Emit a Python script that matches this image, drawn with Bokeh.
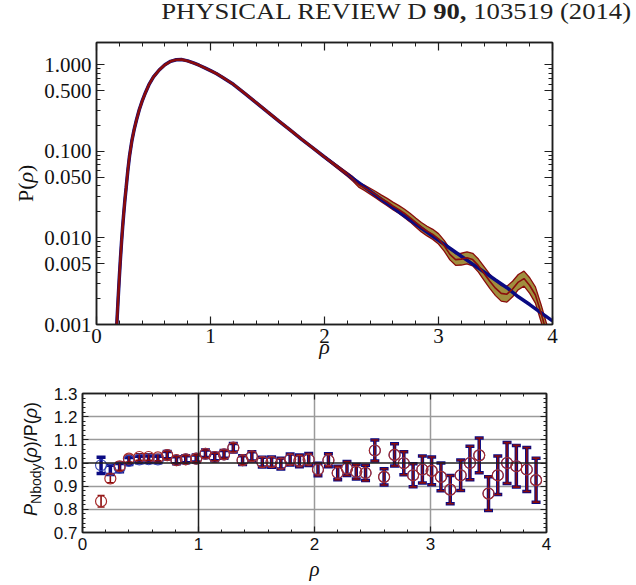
import numpy as np
from bokeh.plotting import figure
from bokeh.models import (ColumnDataSource, FixedTicker, CustomJSTickFormatter, LinearAxis,
                          LogAxis, Span, Whisker, TeeHead, Range1d, Div)
from bokeh.layouts import column, row
from bokeh.embed import file_html
from bokeh.resources import INLINE

# ---------------- data ----------------
# model curve P(rho) (blue)
rho_model = [0.17, 0.178, 0.19, 0.20, 0.21, 0.22, 0.23, 0.24, 0.25, 0.26, 0.275, 0.29, 0.31, 0.33,
             0.35, 0.375, 0.40, 0.43, 0.46, 0.50, 0.55, 0.60, 0.65, 0.70, 0.75, 0.80, 0.85, 0.90,
             0.95, 1.00, 1.05, 1.10, 1.20, 1.30, 1.40, 1.50, 1.60, 1.70, 1.80, 1.90, 2.00, 2.10,
             2.20, 2.30, 2.40, 2.50, 2.60, 2.70, 2.80, 2.90, 3.00, 3.10, 3.20, 3.30, 3.40, 3.50,
             3.60, 3.70, 3.80, 3.90, 4.00]
p_model = [0.0007, 0.001, 0.0020, 0.00347, 0.00575, 0.00912, 0.0138, 0.0200, 0.0282, 0.0380,
           0.0603, 0.0891, 0.132, 0.178, 0.229, 0.302, 0.380, 0.479, 0.589, 0.724, 0.871, 1.0,
           1.096, 1.143, 1.148, 1.109, 1.052, 0.989, 0.923, 0.857, 0.794, 0.724, 0.596, 0.468,
           0.366, 0.286, 0.224, 0.176, 0.138, 0.109, 0.0861, 0.0684, 0.0543, 0.0434, 0.0347,
           0.0278, 0.0224, 0.0180, 0.0145, 0.0116, 0.00938, 0.00759, 0.00614, 0.00498, 0.00404,
           0.00327, 0.00266, 0.00209, 0.00170, 0.00136, 0.00110]

# simulation curve (dark red) with its band
rho_sim = [0.17, 0.178, 0.19, 0.20, 0.21, 0.22, 0.23, 0.24, 0.25, 0.26, 0.275, 0.29, 0.31, 0.33,
           0.35, 0.375, 0.40, 0.43, 0.46, 0.50, 0.55, 0.60, 0.65, 0.70, 0.75, 0.80, 0.85, 0.90,
           0.95, 1.00, 1.05, 1.10, 1.20, 1.30, 1.40, 1.50, 1.60, 1.70, 1.80, 1.90, 2.00, 2.10,
           2.20, 2.25, 2.30, 2.35, 2.40, 2.45, 2.50, 2.55, 2.60, 2.65, 2.70, 2.75, 2.80, 2.85,
           2.90, 2.95, 3.00, 3.05, 3.10, 3.15, 3.20, 3.25, 3.30, 3.35, 3.40, 3.45, 3.50, 3.55,
           3.60, 3.65, 3.70, 3.75, 3.80, 3.85, 3.90, 3.95, 4.00]
p_sim = [0.0007, 0.001, 0.0020, 0.00347, 0.00575, 0.00912, 0.0138, 0.0200, 0.0282, 0.0380,
         0.0603, 0.0891, 0.132, 0.178, 0.229, 0.302, 0.380, 0.479, 0.589, 0.724, 0.871, 1.0,
         1.096, 1.143, 1.148, 1.109, 1.052, 0.989, 0.923, 0.857, 0.794, 0.724, 0.596, 0.468,
         0.366, 0.286, 0.224, 0.176, 0.138, 0.109, 0.0861, 0.0684, 0.0543, 0.0479, 0.0412,
         0.0380, 0.0347, 0.0316, 0.0285, 0.0260, 0.0234, 0.0214, 0.0193, 0.0172, 0.0151,
         0.0133, 0.0120, 0.0110, 0.00977, 0.00813, 0.00646, 0.00562, 0.00569, 0.00589,
         0.00562, 0.00479, 0.00389, 0.00316, 0.00263, 0.00229, 0.00224, 0.00257, 0.00309,
         0.00339, 0.00282, 0.00219, 0.00135, 0.00079, 0.00045]
band_start = 2.0
# half width of the band in decades, for rho_sim >= 2.0
band_hw = [0.012, 0.017, 0.022,
           0.025, 0.028, 0.031, 0.034, 0.037, 0.040,
           0.042, 0.044, 0.046, 0.048, 0.050, 0.052, 0.054, 0.056, 0.058, 0.060,
           0.062, 0.064, 0.066, 0.068, 0.070, 0.073, 0.076, 0.079, 0.082, 0.086,
           0.090, 0.092, 0.090, 0.088, 0.087, 0.090, 0.094, 0.098, 0.102, 0.106]

# ratio panel
rho_bins = [0.16, 0.24, 0.32, 0.40, 0.49, 0.57, 0.65, 0.73, 0.81, 0.89, 0.98, 1.06, 1.14, 1.22,
            1.30, 1.38, 1.46, 1.55, 1.63, 1.71, 1.79, 1.87, 1.95, 2.03, 2.12, 2.20, 2.28, 2.36,
            2.44, 2.52, 2.60, 2.69, 2.77, 2.85, 2.93, 3.01, 3.09, 3.17, 3.26, 3.34, 3.42, 3.50,
            3.58, 3.66, 3.74, 3.83, 3.91]
ratio_blue = [0.990, 0.970, 0.980, 1.009, 1.015, 1.016, 1.015, 1.034, 1.012, 1.016, 1.019, 1.040,
              1.026, 1.037, 1.066, 1.012, 1.029, 1.004, 1.004, 0.997, 1.015, 1.009, 1.015, 0.972,
              1.012, 0.957, 0.976, 0.962, 0.957, 1.054, 0.940, 1.035, 0.999, 0.947, 0.972, 0.966,
              0.940, 0.885, 0.947, 1.000, 1.033, 0.868, 0.947, 1.000, 0.986, 0.972, 0.926]
err_blue = [0.035, 0.020, 0.018, 0.015, 0.014, 0.014, 0.014, 0.016, 0.015, 0.015, 0.015, 0.016,
            0.016, 0.017, 0.018, 0.019, 0.020, 0.021, 0.022, 0.023, 0.024, 0.025, 0.026, 0.027,
            0.028, 0.029, 0.030, 0.031, 0.033, 0.045, 0.035, 0.048, 0.050, 0.050, 0.058, 0.060,
            0.060, 0.061, 0.066, 0.072, 0.075, 0.073, 0.083, 0.088, 0.090, 0.095, 0.095]
ratio_red = [0.835, 0.933, 0.986, 1.019, 1.026, 1.026, 1.024, 1.034, 1.012, 1.016, 1.019, 1.040,
             1.026, 1.037, 1.066, 1.012, 1.029, 1.004, 1.004, 0.997, 1.015, 1.009, 1.015, 0.972,
             1.012, 0.957, 0.976, 0.962, 0.957, 1.054, 0.940, 1.035, 0.999, 0.947, 0.972, 0.966,
             0.940, 0.885, 0.947, 1.000, 1.033, 0.868, 0.947, 1.000, 0.986, 0.972, 0.926]
err_red = [0.025, 0.018, 0.018, 0.015, 0.014, 0.014, 0.014, 0.016, 0.015, 0.015, 0.015, 0.016,
           0.016, 0.017, 0.018, 0.019, 0.020, 0.021, 0.022, 0.023, 0.024, 0.025, 0.026, 0.027,
           0.028, 0.029, 0.030, 0.031, 0.033, 0.045, 0.035, 0.048, 0.050, 0.050, 0.058, 0.060,
           0.060, 0.061, 0.066, 0.072, 0.075, 0.073, 0.083, 0.088, 0.090, 0.095, 0.095]

top_yticks = [0.001, 0.005, 0.01, 0.05, 0.1, 0.5, 1.0]
x_ticks = [0, 1, 2, 3, 4]
bot_yticks = [0.7, 0.8, 0.9, 1.0, 1.1, 1.2, 1.3]

# ---------------- styling ----------------
NAVY = "#0a0a82"
DRED = "#8a0c0c"
OLIVE = "#a08e3e"
INK = "#1e1e1e"
SERIF = "Liberation Serif"
SANS = "Liberation Sans"

log_minor = [m * 10.0 ** e for e in (-3, -2, -1, 0) for m in range(2, 10) if m * 10.0 ** e < 1.9]
x_minor = [round(v, 2) for v in np.arange(0, 4.001, 0.2)]
blank = CustomJSTickFormatter(code="return ''")


def style_axis(ax, ticker, fmt, font, size, standoff, tin, tmin):
    ax.ticker = ticker
    ax.formatter = fmt
    ax.major_tick_in = tin
    ax.major_tick_out = 0
    ax.minor_tick_in = tmin
    ax.minor_tick_out = 0
    ax.axis_line_color = INK
    ax.axis_line_width = 1.5
    ax.major_tick_line_color = INK
    ax.major_tick_line_width = 1.2
    ax.minor_tick_line_color = INK
    ax.minor_tick_line_width = 1.0
    ax.major_label_text_font = font
    ax.major_label_text_font_size = size
    ax.major_label_text_color = "#111111"
    ax.major_label_standoff = standoff


# ---------------- header ----------------
header = Div(width=636, height=28, margin=0, text=(
    '<div style="position:relative;width:636px;height:28px;">'
    '<div style="position:absolute;right:5px;top:0px;font-family:\'Liberation Serif\';'
    'font-size:23px;line-height:23px;color:#231f20;white-space:nowrap;'
    'transform:scaleX(1.16);transform-origin:right top;">'
    'PHYSICAL REVIEW D <b>90,</b> 103519 (2014)</div></div>'))

# ---------------- top panel ----------------
top = figure(width=598, height=337, x_range=Range1d(0, 4), y_range=Range1d(0.001, 1.81),
             y_axis_type="log", output_backend="svg", toolbar_location=None,
             min_border_left=58, min_border_right=84, min_border_top=14, min_border_bottom=41)
top.title = None
top.xgrid.visible = False
top.ygrid.visible = False
top.outline_line_color = INK
top.outline_line_width = 1.5

xt = FixedTicker(ticks=x_ticks, minor_ticks=x_minor)
yt = FixedTicker(ticks=top_yticks, minor_ticks=log_minor)
style_axis(top.xaxis[0], xt, CustomJSTickFormatter(code="return tick.toFixed(0)"), SERIF, "21px", 4, 8, 4)
style_axis(top.yaxis[0], yt, CustomJSTickFormatter(code="return tick.toFixed(3)"), SERIF, "21px", 5, 8, 4)
top.xaxis[0].axis_label = "ρ"
top.xaxis[0].axis_label_text_font = SERIF
top.xaxis[0].axis_label_text_font_size = "22px"
top.xaxis[0].axis_label_text_font_style = "italic"
top.xaxis[0].axis_label_text_color = "#111111"
top.xaxis[0].axis_label_standoff = -12
ax_t = LinearAxis()
style_axis(ax_t, xt, blank, SERIF, "6px", 0, 8, 4)
top.add_layout(ax_t, "above")
ax_r = LogAxis()
style_axis(ax_r, yt, blank, SERIF, "6px", 0, 8, 4)
top.add_layout(ax_r, "right")

i0 = rho_sim.index(band_start)
band_rho = rho_sim[i0:]
band_p = p_sim[i0:]
band_lo = [p * 10 ** (-h) for p, h in zip(band_p, band_hw)]
band_hi = [p * 10 ** h for p, h in zip(band_p, band_hw)]
i1 = rho_sim.index(2.2)

top.varea(x=band_rho, y1=band_lo, y2=band_hi, fill_color=OLIVE, fill_alpha=1.0)
top.line(band_rho, band_lo, line_color=DRED, line_width=1.3)
top.line(band_rho, band_hi, line_color=DRED, line_width=1.3)
top.line(rho_model, p_model, line_color=NAVY, line_width=3.5)
top.line(rho_sim[:i1 + 1], p_sim[:i1 + 1], line_color=DRED, line_width=2.6)
top.line(rho_sim[i1:], p_sim[i1:], line_color=DRED, line_width=1.6)

ylab_top = Div(width=38, height=337, margin=0, text=(
    '<div style="position:relative;width:38px;height:337px;">'
    '<div style="position:absolute;left:15px;top:174px;transform:rotate(-90deg);'
    'transform-origin:0 0;white-space:nowrap;font-family:\'Liberation Serif\';'
    'font-size:22px;line-height:22px;color:#111111;">P(<i>ρ</i>)</div></div>'))

# ---------------- bottom panel ----------------
bot = figure(width=591, height=220, x_range=Range1d(0, 4), y_range=Range1d(0.7, 1.3),
             output_backend="svg", toolbar_location=None,
             min_border_left=37, min_border_right=90, min_border_top=28, min_border_bottom=53)
bot.title = None
bot.outline_line_color = INK
bot.outline_line_width = 1.5
bot.xgrid.ticker = FixedTicker(ticks=[2, 3])
bot.ygrid.ticker = FixedTicker(ticks=[0.8, 0.9, 1.1, 1.2])
for g in (bot.xgrid[0], bot.ygrid[0]):
    g.grid_line_color = "#9a9a9a"
    g.grid_line_width = 1.5
    g.grid_line_alpha = 1.0

bxt = FixedTicker(ticks=x_ticks, minor_ticks=x_minor)
byt = FixedTicker(ticks=bot_yticks, minor_ticks=[round(v, 2) for v in np.arange(0.7, 1.3001, 0.02)])
style_axis(bot.xaxis[0], bxt, CustomJSTickFormatter(code="return tick.toFixed(0)"), SANS, "17px", 5, 6, 3)
style_axis(bot.yaxis[0], byt, CustomJSTickFormatter(code="return tick.toFixed(1)"), SANS, "17px", 5, 6, 3)
bot.xaxis[0].axis_label = "ρ"
bot.xaxis[0].axis_label_text_font = SERIF
bot.xaxis[0].axis_label_text_font_size = "21px"
bot.xaxis[0].axis_label_text_font_style = "italic"
bot.xaxis[0].axis_label_text_color = "#111111"
bot.xaxis[0].axis_label_standoff = 4
bax_t = LinearAxis()
style_axis(bax_t, bxt, blank, SANS, "6px", 0, 6, 3)
bot.add_layout(bax_t, "above")
bax_r = LinearAxis()
style_axis(bax_r, byt, blank, SANS, "6px", 0, 6, 3)
bot.add_layout(bax_r, "right")

bot.add_layout(Span(location=1.0, dimension="width", line_color=INK, line_width=1.5))
bot.add_layout(Span(location=1.0, dimension="height", line_color=INK, line_width=1.5))

src_b = ColumnDataSource(dict(x=rho_bins, y=ratio_blue,
                              lo=[v - e for v, e in zip(ratio_blue, err_blue)],
                              hi=[v + e for v, e in zip(ratio_blue, err_blue)]))
src_r = ColumnDataSource(dict(x=rho_bins, y=ratio_red,
                              lo=[v - e for v, e in zip(ratio_red, err_red)],
                              hi=[v + e for v, e in zip(ratio_red, err_red)]))

bot.scatter("x", "y", source=src_b, marker="circle", size=11, fill_color=None,
            line_color="#3444b4", line_width=1.1)
bot.add_layout(Whisker(source=src_b, base="x", lower="lo", upper="hi", dimension="height",
                       line_color=NAVY, line_width=3.5,
                       upper_head=TeeHead(size=9, line_color=NAVY, line_width=3.5),
                       lower_head=TeeHead(size=9, line_color=NAVY, line_width=3.5)))
bot.add_layout(Whisker(source=src_r, base="x", lower="lo", upper="hi", dimension="height",
                       line_color=DRED, line_width=1.6,
                       upper_head=TeeHead(size=7, line_color=DRED, line_width=1.6),
                       lower_head=TeeHead(size=7, line_color=DRED, line_width=1.6)))
bot.scatter("x", "y", source=src_r, marker="circle", size=11, fill_color=None,
            line_color="#a52a2a", line_width=1.2)

ylab_bot = Div(width=45, height=220, margin=0, text=(
    '<div style="position:relative;width:45px;height:220px;">'
    '<div style="position:absolute;left:22px;top:151px;transform:rotate(-90deg);'
    'transform-origin:0 0;white-space:nowrap;font-family:\'Liberation Sans\';'
    'font-size:18px;line-height:18px;color:#111111;">'
    '<i>P</i><span style="font-size:14px;position:relative;top:4px;">Nbody</span>'
    '(<i>ρ</i>)/P(<i>ρ</i>)</div></div>'))

layout = column(header, row(ylab_top, top, spacing=0), row(ylab_bot, bot, spacing=0), spacing=0)
open("out.html", "w").write(file_html(layout, INLINE))
